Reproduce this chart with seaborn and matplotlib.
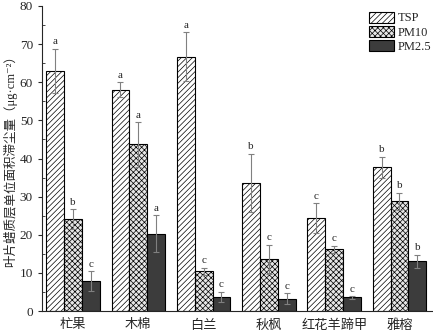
import numpy as np
import pandas as pd
import matplotlib
matplotlib.use("Agg")
import matplotlib.pyplot as plt
import seaborn as sns

species = ["杧果", "木棉", "白兰", "秋枫", "红花羊蹄甲", "雅榕"]
groups = ["TSP", "PM10", "PM2.5"]

tsp = [63.0, 58.1, 66.7, 33.7, 24.5, 37.7]
pm10 = [24.1, 43.7, 10.5, 13.6, 16.2, 28.8]
pm25 = [7.9, 20.3, 3.7, 3.3, 3.6, 13.1]

tsp_err = [5.8, 2.0, 6.4, 7.6, 3.9, 2.8]
pm10_err = [2.6, 5.8, 0.9, 3.8, 1.0, 2.3]
pm25_err = [2.5, 4.9, 1.4, 1.5, 0.3, 1.7]

tsp_sig = ["a", "a", "a", "b", "c", "b"]
pm10_sig = ["b", "a", "c", "c", "c", "b"]
pm25_sig = ["c", "a", "c", "c", "c", "b"]

sns.set_style("ticks")
plt.rcParams["font.family"] = ["Liberation Serif", "Noto Sans CJK SC", "DejaVu Sans"]
plt.rcParams["hatch.linewidth"] = 0.5

df = pd.DataFrame({
    "species": species * 3,
    "group": [g for g in groups for _ in species],
    "value": tsp + pm10 + pm25,
})

fig = plt.figure(figsize=(4.33, 3.31), dpi=100)
ax = fig.add_axes([0.097, 0.06, 0.901, 0.922])

sns.barplot(data=df, x="species", y="value", hue="group", order=species,
            hue_order=groups, width=0.82, errorbar=None, ax=ax,
            palette=["white", "white", "#3c3c3c"], edgecolor="black",
            linewidth=0.8, saturation=1)

hatches = ["//////", "xxxxxx", ""]
errs = [tsp_err, pm10_err, pm25_err]
sigs = [tsp_sig, pm10_sig, pm25_sig]
vals = [tsp, pm10, pm25]
bar_conts = list(ax.containers)
for k, cont in enumerate(bar_conts):
    for i, bar in enumerate(cont):
        bar.set_hatch(hatches[k])
        if k == 1:
            bar.set_facecolor("#e6e6e6")
        xc = bar.get_x() + bar.get_width() / 2
        ax.errorbar(xc, vals[k][i], yerr=errs[k][i], color="#808080",
                    lw=0.8, capsize=2.5, capthick=0.8)
        ax.text(xc, vals[k][i] + errs[k][i] + 0.6, sigs[k][i], ha="center",
                va="bottom", fontsize=8)

ax.set_xlim(-0.475, 5.5)
ax.set_ylim(0, 80)
ax.set_yticks(np.arange(0, 81, 10))
ax.set_yticks(np.arange(5, 80, 10), minor=True)
ax.tick_params(axis="y", which="major", direction="out", length=3, labelsize=9.5)
ax.tick_params(axis="y", which="minor", direction="in", length=2)
ax.tick_params(axis="x", length=0, labelsize=9.5, pad=6)
ax.set_xlabel("")
ax.set_ylabel("叶片蜡质层单位面积滞尘量（μg·cm⁻²）", fontsize=9, labelpad=2)
sns.despine(ax=ax)

leg = ax.legend(loc="upper right", frameon=False, fontsize=9,
                handlelength=2.0, handleheight=1.0, labelspacing=0.1,
                borderaxespad=0.0, handletextpad=0.3, borderpad=0.2,
                bbox_to_anchor=(1.005, 0.99))
for h, hatch in zip(leg.legend_handles, hatches):
    h.set_hatch(hatch)
leg.legend_handles[1].set_facecolor("#e6e6e6")

fig.savefig("out.png", dpi=100)
